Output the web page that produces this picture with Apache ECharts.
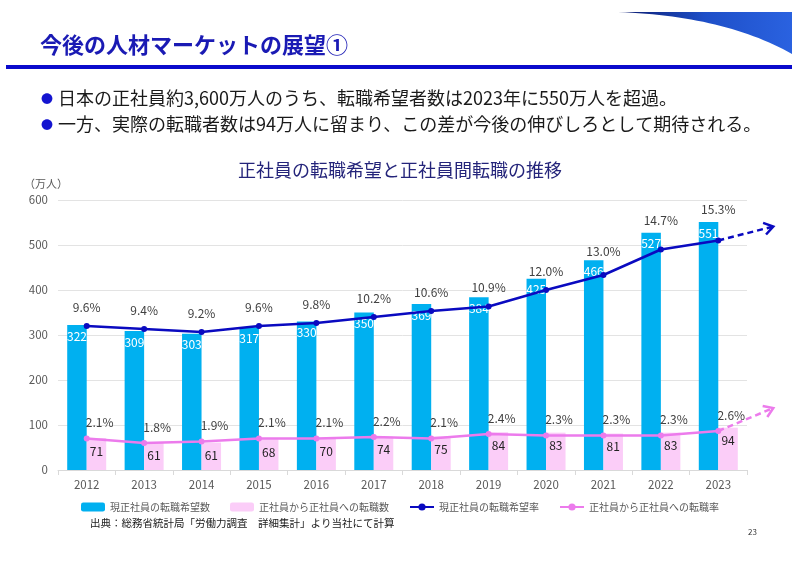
<!DOCTYPE html>
<html><head><meta charset="utf-8">
<script src="https://cdn.jsdelivr.net/npm/echarts@6/dist/echarts.min.js"></script>
<style>html,body{margin:0;padding:0;background:#fff}#c{width:800px;height:566px}</style>
</head><body><div id="c"></div>
<script>
const years = ['2012','2013','2014','2015','2016','2017','2018','2019','2020','2021','2022','2023'];
const wishCount = [322,309,303,317,330,350,369,384,425,466,527,551];
const moveCount = [71,61,61,68,70,74,75,84,83,81,83,94];
const wishRate = [9.6,9.4,9.2,9.6,9.8,10.2,10.6,10.9,12.0,13.0,14.7,15.3];
const moveRate = [2.1,1.8,1.9,2.1,2.1,2.2,2.1,2.4,2.3,2.3,2.3,2.6];
const yTicks = [0,100,200,300,400,500,600];
const seriesNames = ['現正社員の転職希望数','正社員から正社員への転職数','現正社員の転職希望率','正社員から正社員への転職率'];
const titleText = '今後の人材マーケットの展望①';
const bullets = ['日本の正社員約3,600万人のうち、転職希望者数は2023年に550万人を超過。','一方、実際の転職者数は94万人に留まり、この差が今後の伸びしろとして期待される。'];
const chartTitle = '正社員の転職希望と正社員間転職の推移';
const unitLabel = '（万人）';
const sourceText = '出典：総務省統計局「労働力調査　詳細集計」より当社にて計算';
const pageNo = '23';

const FONT = '"Noto Sans CJK JP", "Noto Sans", sans-serif';
const C_BLUEBAR = '#00B0F0', C_PINKBAR = '#FBCDF8', C_BLUELINE = '#0A0AC0', C_PINKLINE = '#EC7BEC';
const wishLabelShift = {9: -5, 10: -10, 11: -12};

const chart = echarts.init(document.getElementById('c'), null, {renderer:'canvas'});
const option = {
  animation: false,
  textStyle: {fontFamily: FONT},
  grid: {left: 58, right: 53, top: 200, bottom: 96},
  legend: {
    bottom: 49, left: 'center', itemGap: 20, itemWidth: 24, itemHeight: 9,
    textStyle: {fontSize: 10, color: '#595959', fontFamily: FONT},
    data: seriesNames
  },
  xAxis: {
    type: 'category', data: years,
    axisLine: {lineStyle: {color: '#D9D9D9'}},
    axisTick: {show: true, length: 5, lineStyle: {color: '#D9D9D9'}},
    axisLabel: {color: '#595959', fontSize: 11.5, margin: 9}
  },
  yAxis: [
    {type: 'value', min: yTicks[0], max: yTicks[yTicks.length-1], interval: 100,
     axisLabel: {color: '#595959', fontSize: 11.5, margin: 10},
     axisLine: {show: false}, axisTick: {show: false},
     splitLine: {lineStyle: {color: '#E3E3E3'}}},
    {type: 'value', min: 0, max: 18, show: false, splitLine: {show: false}}
  ],
  series: [
    {name: seriesNames[0], type: 'bar', data: wishCount, barWidth: 19.5, barGap: '0%',
     itemStyle: {color: C_BLUEBAR},
     label: {show: true, position: 'insideTop', distance: 5, color: '#fff', fontSize: 12}},
    {name: seriesNames[1], type: 'bar', data: moveCount, barWidth: 19.5,
     itemStyle: {color: C_PINKBAR},
     label: {show: true, position: 'insideTop', distance: 7, color: '#222', fontSize: 12}},
    {name: seriesNames[2], type: 'line', yAxisIndex: 1, data: wishRate, z: 5,
     symbol: 'circle', symbolSize: 6, lineStyle: {color: C_BLUELINE, width: 2.5},
     itemStyle: {color: C_BLUELINE},
     label: {show: true, position: 'top', distance: 10, color: '#404040', fontSize: 12,
             formatter: p => p.value.toFixed(1) + '%'},
     labelLayout: p => (wishLabelShift[p.dataIndex] !== undefined ? {dy: wishLabelShift[p.dataIndex]} : {})},
    {name: seriesNames[3], type: 'line', yAxisIndex: 1, data: moveRate, z: 5,
     symbol: 'circle', symbolSize: 6, lineStyle: {color: C_PINKLINE, width: 2.5},
     itemStyle: {color: C_PINKLINE},
     label: {show: true, position: 'top', distance: 7, offset: [13, 0], color: '#404040', fontSize: 12,
             formatter: p => p.value.toFixed(1) + '%'}}
  ]
};
chart.setOption(option);

function arrow(start, tip, color) {
  const dx = tip[0]-start[0], dy = tip[1]-start[1];
  const len = Math.sqrt(dx*dx+dy*dy), ux = dx/len, uy = dy/len;
  const px = -uy, py = ux, h = 9, w = 6;
  return [
    {type: 'polyline', shape: {points: [start, tip]}, style: {stroke: color, lineWidth: 2.5, lineDash: [6,4], fill: null}, z: 10},
    {type: 'polyline', shape: {points: [[tip[0]-ux*h+px*w, tip[1]-uy*h+py*w], tip, [tip[0]-ux*h-px*w, tip[1]-uy*h-py*w]]},
     style: {stroke: color, lineWidth: 2.5, fill: null}, z: 10}
  ];
}
const last = years.length - 1;
const pBlue = chart.convertToPixel({xAxisIndex: 0, yAxisIndex: 1}, [years[last], wishRate[last]]);
const pPink = chart.convertToPixel({xAxisIndex: 0, yAxisIndex: 1}, [years[last], moveRate[last]]);

// decorative swoosh (top-right)
const swoosh = [[618,12],[792,12],[792,54]];
for (let k = 1; k < 30; k++) {
  const t = k / 30;
  const a = [792,54], c = [725,16], b = [618,12];
  swoosh.push([(1-t)*(1-t)*a[0] + 2*(1-t)*t*c[0] + t*t*b[0], (1-t)*(1-t)*a[1] + 2*(1-t)*t*c[1] + t*t*b[1]]);
}
const grad = {type: 'linear', x: 0, y: 0, x2: 1, y2: 0, global: false,
  colorStops: [{offset:0,color:'#0B1A6E'},{offset:0.5,color:'#1E4FC8'},{offset:1,color:'#2A62E0'}]};
const graphics = [
  {type: 'polygon', shape: {points: swoosh}, style: {fill: grad}},
  {type: 'text', left: 40, top: 34, style: {text: titleText, font: 'bold 22px ' + FONT, fill: '#1A1AB4'}},
  {type: 'rect', shape: {x: 6, y: 65, width: 786, height: 4}, style: {fill: '#0A0ACC'}},
  {type: 'text', left: 41, top: 93, style: {text: '●', font: '12px ' + FONT, fill: '#1414D0'}},
  {type: 'text', left: 58, top: 89, style: {text: bullets[0], font: '18px ' + FONT, fill: '#1A1A1A'}},
  {type: 'text', left: 41, top: 119, style: {text: '●', font: '12px ' + FONT, fill: '#1414D0'}},
  {type: 'text', left: 58, top: 115, style: {text: bullets[1], font: '18px ' + FONT, fill: '#1A1A1A'}},
  {type: 'text', left: 'center', top: 161, style: {text: chartTitle, font: '18px ' + FONT, fill: '#24247A'}},
  {type: 'text', left: 24, top: 178, style: {text: unitLabel, font: '11px ' + FONT, fill: '#595959'}},
  {type: 'text', left: 90, top: 518, style: {text: sourceText, font: '10.5px ' + FONT, fill: '#1A1A1A'}},
  {type: 'text', left: 748, top: 528, style: {text: pageNo, font: '8px ' + FONT, fill: '#333'}}
].concat(arrow(pBlue, [pBlue[0]+55, pBlue[1]-14], C_BLUELINE))
 .concat(arrow(pPink, [pPink[0]+55, pPink[1]-23], C_PINKLINE));
chart.setOption({graphic: graphics});
</script></body></html>
